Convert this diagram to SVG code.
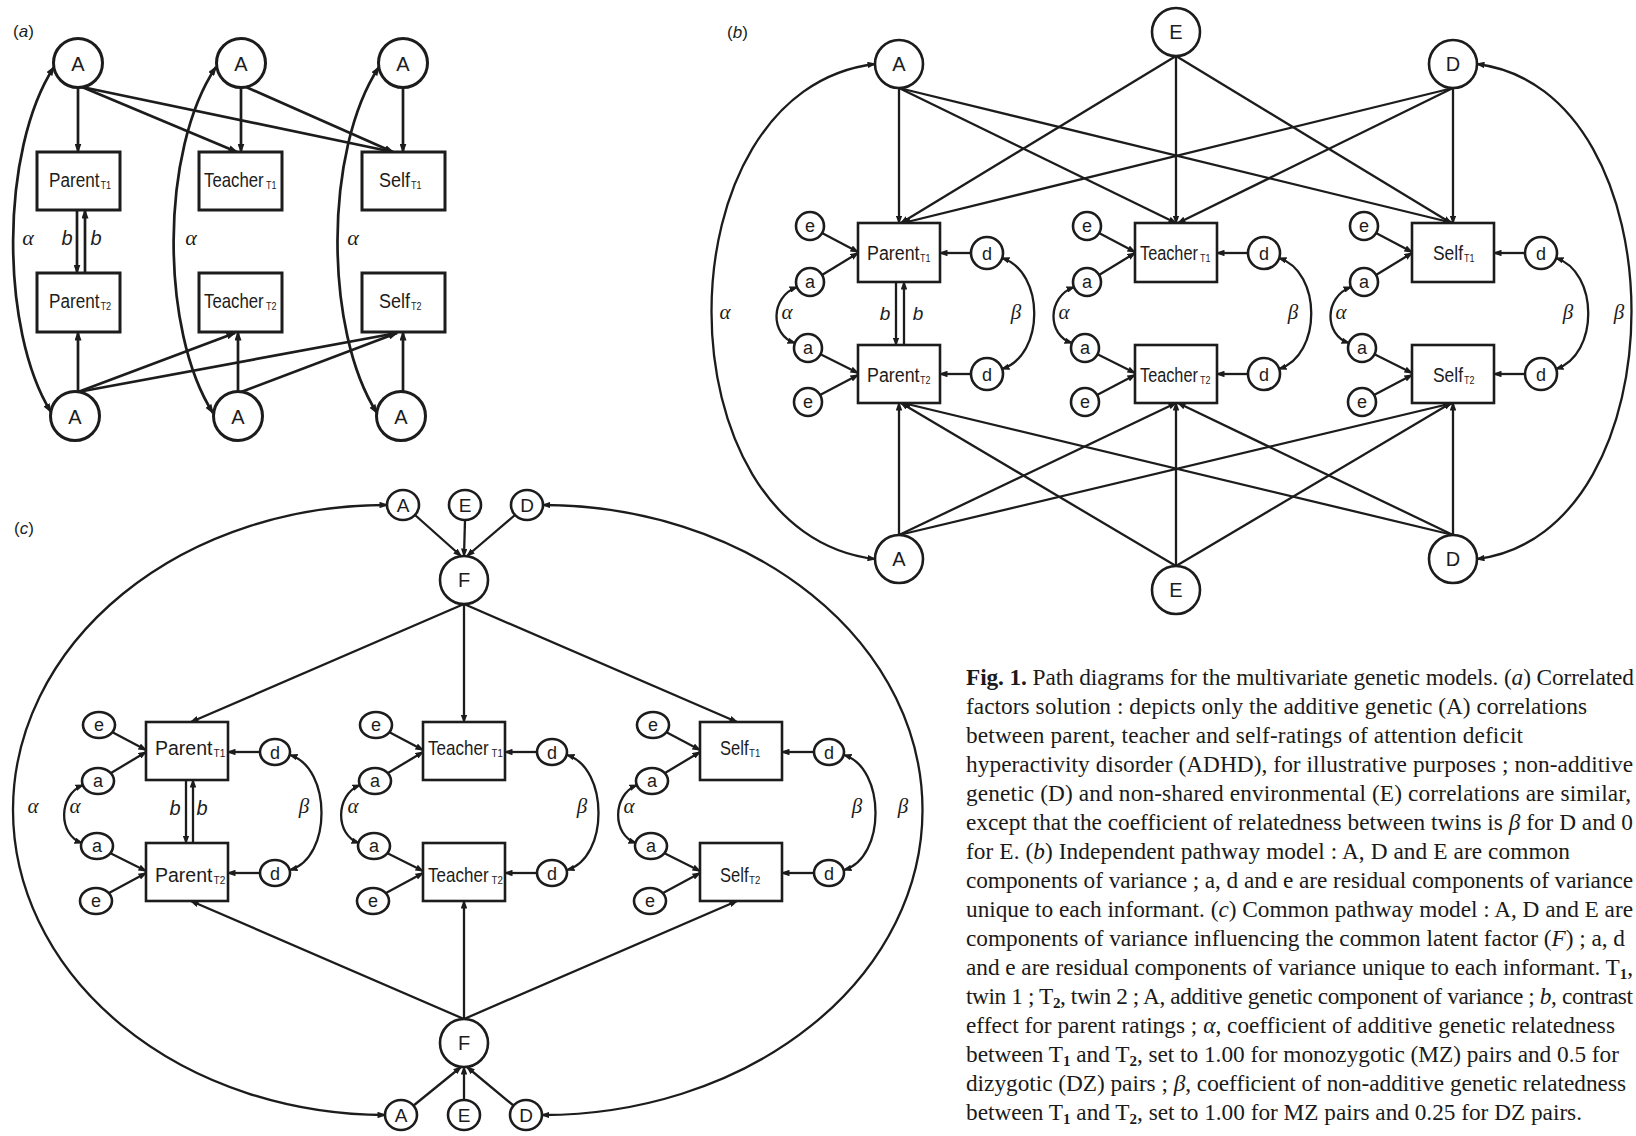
<svg xmlns="http://www.w3.org/2000/svg" width="1636" height="1136" viewBox="0 0 1636 1136">
<defs>
<style>
.ln{fill:none;stroke:#1c1c1c;stroke-linecap:butt}
.wa{stroke-width:2.7}
.wb{stroke-width:2.3}
.nd{fill:#fff;stroke:#1c1c1c}
.na{stroke-width:3}
.nb{stroke-width:2.6}
.sans{font-family:"Liberation Sans",Arial,sans-serif;fill:#1c1c1c}
.ser{font-family:"Liberation Serif","Times New Roman",serif;fill:#1c1c1c}
.it{font-style:italic}
.mid{text-anchor:middle}
.sub{font-family:"Liberation Sans",Arial,sans-serif;fill:#1c1c1c;font-size:11.5px}
.cap{font-family:"Liberation Serif","Times New Roman",serif;font-size:23.3px;fill:#1a1a1a}
</style>
<marker id="ma" viewBox="0 0 10 7" refX="8.5" refY="3.5" markerWidth="10" markerHeight="7" markerUnits="userSpaceOnUse" orient="auto-start-reverse"><path d="M0,0 L10,3.5 L0,7 z" fill="#1c1c1c"/></marker>
<marker id="mb" viewBox="0 0 9 6.5" refX="7.5" refY="3.25" markerWidth="9" markerHeight="6.5" markerUnits="userSpaceOnUse" orient="auto-start-reverse"><path d="M0,0 L9,3.25 L0,6.5 z" fill="#1c1c1c"/></marker>
</defs>
<rect width="1636" height="1136" fill="#fff"/>

<!-- ================= CONNECTORS ================= -->
<g id="connectors">
 <!-- panel a -->
 <g class="ln wa" marker-end="url(#ma)">
  <path d="M78,88 L78,152"/>
  <path d="M82,87 L237,152"/>
  <path d="M82,87 L393,152"/>
  <path d="M241,88 L241,152"/>
  <path d="M246,87 L393,152"/>
  <path d="M403,88 L403,152"/>
  <path d="M78,392 L78,332"/>
  <path d="M78,392 L235,333"/>
  <path d="M78,392 L397,333"/>
  <path d="M238,392 L238,332"/>
  <path d="M241,392 L397,333"/>
  <path d="M403,392 L403,332"/>
  <path d="M77,210 L77,273"/>
  <path d="M85,273 L85,210"/>
 </g>
 <g class="ln wa" marker-start="url(#ma)" marker-end="url(#ma)">
  <path d="M54,67 C0,150 0,330 51,412"/>
  <path d="M216,67 C160,150 160,330 213,413"/>
  <path d="M379,67 C324,150 324,330 377,413"/>
 </g>
 <!-- panel b -->
 <g class="ln wb" marker-end="url(#mb)">
  <path d="M899,88 L899,223"/>
  <path d="M899,88 L1176,223"/>
  <path d="M899,88 L1453,223"/>
  <path d="M1176,56 L901,223"/>
  <path d="M1176,56 L1176,223"/>
  <path d="M1176,56 L1451,223"/>
  <path d="M1453,88 L903,223"/>
  <path d="M1453,88 L1178,223"/>
  <path d="M1453,88 L1453,223"/>
  <path d="M899,535 L899,403"/>
  <path d="M899,535 L1176,403"/>
  <path d="M899,535 L1453,403"/>
  <path d="M1176,566 L901,403"/>
  <path d="M1176,566 L1176,403"/>
  <path d="M1176,566 L1451,403"/>
  <path d="M1453,535 L903,403"/>
  <path d="M1453,535 L1178,403"/>
  <path d="M1453,535 L1453,403"/>
  <path d="M896,282 L896,345"/>
  <path d="M904,345 L904,282"/>
  <path d="M822,233 L858,252"/><path d="M822,275 L858,253"/><path d="M820,354 L858,373"/><path d="M820,395 L858,375"/><path d="M971,253 L940,253"/><path d="M971,374 L940,374"/>
  <path d="M1099,233 L1135,252"/><path d="M1099,275 L1135,253"/><path d="M1097,354 L1135,373"/><path d="M1097,395 L1135,375"/><path d="M1248,253 L1217,253"/><path d="M1248,374 L1217,374"/>
  <path d="M1376,233 L1412,252"/><path d="M1376,275 L1412,253"/><path d="M1374,354 L1412,373"/><path d="M1374,395 L1412,375"/><path d="M1525,253 L1494,253"/><path d="M1525,374 L1494,374"/>
 </g>
 <g class="ln wb" marker-start="url(#mb)" marker-end="url(#mb)">
  <path d="M875,64 C657,90 657,533 875,559"/>
  <path d="M1477,64 C1683,90 1683,533 1477,559"/>
  <path d="M797,287 C770,297 770,335 795,343"/>
  <path d="M1002,258 C1045,272 1045,355 1002,369"/>
  <path d="M1074,287 C1047,297 1047,335 1072,343"/>
  <path d="M1279,258 C1322,272 1322,355 1279,369"/>
  <path d="M1351,287 C1324,297 1324,335 1349,343"/>
  <path d="M1556,258 C1599,272 1599,355 1556,369"/>
 </g>
 <!-- panel c -->
 <g class="ln wb" marker-end="url(#mb)">
  <path d="M415,515 L461,556"/>
  <path d="M465,520 L464,556"/>
  <path d="M515,515 L467,556"/>
  <path d="M464,604 L191,722"/>
  <path d="M464,604 L464,722"/>
  <path d="M464,604 L737,722"/>
  <path d="M464,1019 L191,901"/>
  <path d="M464,1019 L464,901"/>
  <path d="M464,1019 L737,901"/>
  <path d="M413,1106 L461,1067"/>
  <path d="M464,1100 L464,1067"/>
  <path d="M514,1106 L467,1067"/>
  <path d="M186,780 L186,843"/>
  <path d="M193,843 L193,780"/>
  <path d="M112,732 L146,750"/><path d="M111,773 L146,752"/><path d="M110,853 L146,871"/><path d="M109,893 L146,873"/><path d="M260,752 L228,752"/><path d="M260,873 L228,873"/>
  <path d="M389,732 L423,750"/><path d="M388,773 L423,752"/><path d="M387,853 L423,871"/><path d="M386,893 L423,873"/><path d="M537,752 L505,752"/><path d="M537,873 L505,873"/>
  <path d="M666,732 L700,750"/><path d="M665,773 L700,752"/><path d="M664,853 L700,871"/><path d="M663,893 L700,873"/><path d="M814,752 L782,752"/><path d="M814,873 L782,873"/>
 </g>
 <g class="ln wb" marker-start="url(#mb)" marker-end="url(#mb)">
  <path d="M387,505 A373,305 0 0 0 385,1115"/>
  <path d="M543,505 A380,305 0 0 1 542,1115"/>
  <path d="M83,785 C58,795 58,835 82,843"/>
  <path d="M290,755 C332,768 332,858 290,870"/>
  <path d="M360,785 C335,795 335,835 359,843"/>
  <path d="M567,755 C609,768 609,858 567,870"/>
  <path d="M637,785 C612,795 612,835 636,843"/>
  <path d="M844,755 C886,768 886,858 844,870"/>
 </g>
</g>

<!-- ================= PANEL A ================= -->
<g id="panel-a">
 <text class="sans" x="13" y="37" font-size="17">(<tspan class="it">a</tspan>)</text>
 <g id="a-A1-top"><circle class="nd na" cx="78" cy="63" r="24.5"/><text class="sans mid" x="78" y="70.5" font-size="20">A</text></g>
 <g id="a-A2-top"><circle class="nd na" cx="241" cy="63" r="24.5"/><text class="sans mid" x="241" y="70.5" font-size="20">A</text></g>
 <g id="a-A3-top"><circle class="nd na" cx="403" cy="63" r="24.5"/><text class="sans mid" x="403" y="70.5" font-size="20">A</text></g>
 <g id="a-A1-bot"><circle class="nd na" cx="75" cy="416" r="24.5"/><text class="sans mid" x="75" y="423.5" font-size="20">A</text></g>
 <g id="a-A2-bot"><circle class="nd na" cx="238" cy="416" r="24.5"/><text class="sans mid" x="238" y="423.5" font-size="20">A</text></g>
 <g id="a-A3-bot"><circle class="nd na" cx="401" cy="416" r="24.5"/><text class="sans mid" x="401" y="423.5" font-size="20">A</text></g>
 <g id="a-parent-t1"><rect class="nd na" x="37" y="152" width="83" height="58"/><text class="sans" transform="translate(49,187) scale(0.857,1)" font-size="20">Parent</text><text class="sub" transform="translate(100.5,189) scale(0.8,1)">T1</text></g>
 <g id="a-teacher-t1"><rect class="nd na" x="199" y="152" width="83" height="58"/><text class="sans" transform="translate(204,187) scale(0.84,1)" font-size="20">Teacher</text><text class="sub" transform="translate(266,189) scale(0.78,1)">T1</text></g>
 <g id="a-self-t1"><rect class="nd na" x="362" y="152" width="83" height="58"/><text class="sans" transform="translate(379,187) scale(0.9,1)" font-size="20">Self</text><text class="sub" transform="translate(411,189) scale(0.78,1)">T1</text></g>
 <g id="a-parent-t2"><rect class="nd na" x="37" y="273" width="83" height="59"/><text class="sans" transform="translate(49,308) scale(0.857,1)" font-size="20">Parent</text><text class="sub" transform="translate(100.5,310) scale(0.8,1)">T2</text></g>
 <g id="a-teacher-t2"><rect class="nd na" x="199" y="273" width="83" height="59"/><text class="sans" transform="translate(204,308) scale(0.84,1)" font-size="20">Teacher</text><text class="sub" transform="translate(266,310) scale(0.78,1)">T2</text></g>
 <g id="a-self-t2"><rect class="nd na" x="362" y="273" width="83" height="59"/><text class="sans" transform="translate(379,308) scale(0.9,1)" font-size="20">Self</text><text class="sub" transform="translate(411,310) scale(0.78,1)">T2</text></g>
 <g id="a-labels">
  <text class="ser it mid" x="28" y="245" font-size="22">α</text>
  <text class="ser it mid" x="191" y="245" font-size="22">α</text>
  <text class="ser it mid" x="353" y="245" font-size="22">α</text>
  <text class="sans it mid" x="67" y="245" font-size="20">b</text>
  <text class="sans it mid" x="96" y="245" font-size="20">b</text>
 </g>
</g>

<!-- ================= PANEL B ================= -->
<g id="panel-b">
 <text class="sans" x="727" y="38" font-size="17">(<tspan class="it">b</tspan>)</text>
 <g id="b-A-top"><circle class="nd nb" cx="899" cy="64" r="24"/><text class="sans mid" x="899" y="71" font-size="20">A</text></g>
 <g id="b-E-top"><circle class="nd nb" cx="1176" cy="32" r="24"/><text class="sans mid" x="1176" y="39" font-size="20">E</text></g>
 <g id="b-D-top"><circle class="nd nb" cx="1453" cy="64" r="24"/><text class="sans mid" x="1453" y="71" font-size="20">D</text></g>
 <g id="b-A-bot"><circle class="nd nb" cx="899" cy="559" r="24"/><text class="sans mid" x="899" y="566" font-size="20">A</text></g>
 <g id="b-E-bot"><circle class="nd nb" cx="1176" cy="590" r="24"/><text class="sans mid" x="1176" y="597" font-size="20">E</text></g>
 <g id="b-D-bot"><circle class="nd nb" cx="1453" cy="559" r="24"/><text class="sans mid" x="1453" y="566" font-size="20">D</text></g>
 <g id="b-parent-t1"><rect class="nd nb" x="858" y="223" width="82" height="59"/><text class="sans" transform="translate(867,260) scale(0.914,1)" font-size="19.5">Parent</text><text class="sub" transform="translate(920,262) scale(0.78,1)" font-size="11">T1</text></g>
 <g id="b-teacher-t1"><rect class="nd nb" x="1135" y="223" width="82" height="59"/><text class="sans" transform="translate(1140,260) scale(0.835,1)" font-size="19.5">Teacher</text><text class="sub" transform="translate(1200,262) scale(0.78,1)" font-size="11">T1</text></g>
 <g id="b-self-t1"><rect class="nd nb" x="1412" y="223" width="82" height="59"/><text class="sans" transform="translate(1433,260) scale(0.893,1)" font-size="19.5">Self</text><text class="sub" transform="translate(1464,262) scale(0.78,1)" font-size="11">T1</text></g>
 <g id="b-parent-t2"><rect class="nd nb" x="858" y="345" width="82" height="58"/><text class="sans" transform="translate(867,382) scale(0.914,1)" font-size="19.5">Parent</text><text class="sub" transform="translate(920,384) scale(0.78,1)" font-size="11">T2</text></g>
 <g id="b-teacher-t2"><rect class="nd nb" x="1135" y="345" width="82" height="58"/><text class="sans" transform="translate(1140,382) scale(0.835,1)" font-size="19.5">Teacher</text><text class="sub" transform="translate(1200,384) scale(0.78,1)" font-size="11">T2</text></g>
 <g id="b-self-t2"><rect class="nd nb" x="1412" y="345" width="82" height="58"/><text class="sans" transform="translate(1433,382) scale(0.893,1)" font-size="19.5">Self</text><text class="sub" transform="translate(1464,384) scale(0.78,1)" font-size="11">T2</text></g>
 <g id="b-p-e1"><circle class="nd nb" cx="810" cy="226" r="14"/><text class="sans mid" x="810" y="231.5" font-size="18">e</text></g>
 <g id="b-p-a1"><circle class="nd nb" cx="810" cy="282" r="14"/><text class="sans mid" x="810" y="287.5" font-size="18">a</text></g>
 <g id="b-p-a2"><circle class="nd nb" cx="808" cy="348" r="14"/><text class="sans mid" x="808" y="353.5" font-size="18">a</text></g>
 <g id="b-p-e2"><circle class="nd nb" cx="808" cy="402" r="14"/><text class="sans mid" x="808" y="407.5" font-size="18">e</text></g>
 <g id="b-p-d1"><circle class="nd nb" cx="987" cy="253" r="16"/><text class="sans mid" x="987" y="259.5" font-size="18">d</text></g>
 <g id="b-p-d2"><circle class="nd nb" cx="987" cy="374" r="16"/><text class="sans mid" x="987" y="380.5" font-size="18">d</text></g>
 <g id="b-t-e1"><circle class="nd nb" cx="1087" cy="226" r="14"/><text class="sans mid" x="1087" y="231.5" font-size="18">e</text></g>
 <g id="b-t-a1"><circle class="nd nb" cx="1087" cy="282" r="14"/><text class="sans mid" x="1087" y="287.5" font-size="18">a</text></g>
 <g id="b-t-a2"><circle class="nd nb" cx="1085" cy="348" r="14"/><text class="sans mid" x="1085" y="353.5" font-size="18">a</text></g>
 <g id="b-t-e2"><circle class="nd nb" cx="1085" cy="402" r="14"/><text class="sans mid" x="1085" y="407.5" font-size="18">e</text></g>
 <g id="b-t-d1"><circle class="nd nb" cx="1264" cy="253" r="16"/><text class="sans mid" x="1264" y="259.5" font-size="18">d</text></g>
 <g id="b-t-d2"><circle class="nd nb" cx="1264" cy="374" r="16"/><text class="sans mid" x="1264" y="380.5" font-size="18">d</text></g>
 <g id="b-s-e1"><circle class="nd nb" cx="1364" cy="226" r="14"/><text class="sans mid" x="1364" y="231.5" font-size="18">e</text></g>
 <g id="b-s-a1"><circle class="nd nb" cx="1364" cy="282" r="14"/><text class="sans mid" x="1364" y="287.5" font-size="18">a</text></g>
 <g id="b-s-a2"><circle class="nd nb" cx="1362" cy="348" r="14"/><text class="sans mid" x="1362" y="353.5" font-size="18">a</text></g>
 <g id="b-s-e2"><circle class="nd nb" cx="1362" cy="402" r="14"/><text class="sans mid" x="1362" y="407.5" font-size="18">e</text></g>
 <g id="b-s-d1"><circle class="nd nb" cx="1541" cy="253" r="16"/><text class="sans mid" x="1541" y="259.5" font-size="18">d</text></g>
 <g id="b-s-d2"><circle class="nd nb" cx="1541" cy="374" r="16"/><text class="sans mid" x="1541" y="380.5" font-size="18">d</text></g>
 <g id="b-labels">
  <text class="ser it mid" x="725" y="319" font-size="21">α</text>
  <text class="ser it mid" x="787" y="319" font-size="21">α</text>
  <text class="sans it mid" x="885" y="320" font-size="19">b</text>
  <text class="sans it mid" x="918" y="320" font-size="19">b</text>
  <text class="ser it mid" x="1016" y="319" font-size="21">β</text>
  <text class="ser it mid" x="1064" y="319" font-size="21">α</text>
  <text class="ser it mid" x="1293" y="319" font-size="21">β</text>
  <text class="ser it mid" x="1341" y="319" font-size="21">α</text>
  <text class="ser it mid" x="1568" y="319" font-size="21">β</text>
  <text class="ser it mid" x="1619" y="319" font-size="21">β</text>
 </g>
</g>

<!-- ================= PANEL C ================= -->
<g id="panel-c">
 <text class="sans" x="14" y="534" font-size="17">(<tspan class="it">c</tspan>)</text>
 <g id="c-A-top"><ellipse class="nd nb" cx="403" cy="505" rx="16" ry="15"/><text class="sans mid" x="403" y="512" font-size="19">A</text></g>
 <g id="c-E-top"><ellipse class="nd nb" cx="465" cy="505" rx="16" ry="15"/><text class="sans mid" x="465" y="512" font-size="19">E</text></g>
 <g id="c-D-top"><ellipse class="nd nb" cx="527" cy="505" rx="16" ry="15"/><text class="sans mid" x="527" y="512" font-size="19">D</text></g>
 <g id="c-F-top"><circle class="nd nb" cx="464" cy="580" r="24"/><text class="sans mid" x="464" y="587" font-size="20">F</text></g>
 <g id="c-F-bot"><circle class="nd nb" cx="464" cy="1043" r="24"/><text class="sans mid" x="464" y="1050" font-size="20">F</text></g>
 <g id="c-A-bot"><ellipse class="nd nb" cx="401" cy="1115" rx="16" ry="15"/><text class="sans mid" x="401" y="1122" font-size="19">A</text></g>
 <g id="c-E-bot"><ellipse class="nd nb" cx="464" cy="1115" rx="16" ry="15"/><text class="sans mid" x="464" y="1122" font-size="19">E</text></g>
 <g id="c-D-bot"><ellipse class="nd nb" cx="526" cy="1115" rx="16" ry="15"/><text class="sans mid" x="526" y="1122" font-size="19">D</text></g>
 <g id="c-parent-t1"><rect class="nd nb" x="146" y="722" width="82" height="58"/><text class="sans" transform="translate(155,755) scale(0.99,1)" font-size="19.7">Parent</text><text class="sub" transform="translate(213.5,757) scale(0.88,1)">T1</text></g>
 <g id="c-teacher-t1"><rect class="nd nb" x="423" y="722" width="82" height="58"/><text class="sans" transform="translate(428,755) scale(0.865,1)" font-size="19.7">Teacher</text><text class="sub" transform="translate(491.5,757) scale(0.84,1)">T1</text></g>
 <g id="c-self-t1"><rect class="nd nb" x="700" y="722" width="82" height="58"/><text class="sans" transform="translate(720,755) scale(0.84,1)" font-size="19.7">Self</text><text class="sub" transform="translate(749,757) scale(0.84,1)">T1</text></g>
 <g id="c-parent-t2"><rect class="nd nb" x="146" y="843" width="82" height="58"/><text class="sans" transform="translate(155,882) scale(0.99,1)" font-size="19.7">Parent</text><text class="sub" transform="translate(213.5,884) scale(0.88,1)">T2</text></g>
 <g id="c-teacher-t2"><rect class="nd nb" x="423" y="843" width="82" height="58"/><text class="sans" transform="translate(428,882) scale(0.865,1)" font-size="19.7">Teacher</text><text class="sub" transform="translate(491.5,884) scale(0.84,1)">T2</text></g>
 <g id="c-self-t2"><rect class="nd nb" x="700" y="843" width="82" height="58"/><text class="sans" transform="translate(720,882) scale(0.84,1)" font-size="19.7">Self</text><text class="sub" transform="translate(749,884) scale(0.84,1)">T2</text></g>
 <g id="c-p-e1"><ellipse class="nd nb" cx="99" cy="725" rx="16" ry="13"/><text class="sans mid" x="99" y="730.5" font-size="18">e</text></g>
 <g id="c-p-a1"><ellipse class="nd nb" cx="98" cy="781" rx="16" ry="13"/><text class="sans mid" x="98" y="786.5" font-size="18">a</text></g>
 <g id="c-p-a2"><ellipse class="nd nb" cx="97" cy="846" rx="16" ry="13"/><text class="sans mid" x="97" y="851.5" font-size="18">a</text></g>
 <g id="c-p-e2"><ellipse class="nd nb" cx="96" cy="901" rx="16" ry="13"/><text class="sans mid" x="96" y="906.5" font-size="18">e</text></g>
 <g id="c-p-d1"><ellipse class="nd nb" cx="275" cy="752" rx="15" ry="13"/><text class="sans mid" x="275" y="758.5" font-size="18">d</text></g>
 <g id="c-p-d2"><ellipse class="nd nb" cx="275" cy="873" rx="15" ry="13"/><text class="sans mid" x="275" y="879.5" font-size="18">d</text></g>
 <g id="c-t-e1"><ellipse class="nd nb" cx="376" cy="725" rx="16" ry="13"/><text class="sans mid" x="376" y="730.5" font-size="18">e</text></g>
 <g id="c-t-a1"><ellipse class="nd nb" cx="375" cy="781" rx="16" ry="13"/><text class="sans mid" x="375" y="786.5" font-size="18">a</text></g>
 <g id="c-t-a2"><ellipse class="nd nb" cx="374" cy="846" rx="16" ry="13"/><text class="sans mid" x="374" y="851.5" font-size="18">a</text></g>
 <g id="c-t-e2"><ellipse class="nd nb" cx="373" cy="901" rx="16" ry="13"/><text class="sans mid" x="373" y="906.5" font-size="18">e</text></g>
 <g id="c-t-d1"><ellipse class="nd nb" cx="552" cy="752" rx="15" ry="13"/><text class="sans mid" x="552" y="758.5" font-size="18">d</text></g>
 <g id="c-t-d2"><ellipse class="nd nb" cx="552" cy="873" rx="15" ry="13"/><text class="sans mid" x="552" y="879.5" font-size="18">d</text></g>
 <g id="c-s-e1"><ellipse class="nd nb" cx="653" cy="725" rx="16" ry="13"/><text class="sans mid" x="653" y="730.5" font-size="18">e</text></g>
 <g id="c-s-a1"><ellipse class="nd nb" cx="652" cy="781" rx="16" ry="13"/><text class="sans mid" x="652" y="786.5" font-size="18">a</text></g>
 <g id="c-s-a2"><ellipse class="nd nb" cx="651" cy="846" rx="16" ry="13"/><text class="sans mid" x="651" y="851.5" font-size="18">a</text></g>
 <g id="c-s-e2"><ellipse class="nd nb" cx="650" cy="901" rx="16" ry="13"/><text class="sans mid" x="650" y="906.5" font-size="18">e</text></g>
 <g id="c-s-d1"><ellipse class="nd nb" cx="829" cy="752" rx="15" ry="13"/><text class="sans mid" x="829" y="758.5" font-size="18">d</text></g>
 <g id="c-s-d2"><ellipse class="nd nb" cx="829" cy="873" rx="15" ry="13"/><text class="sans mid" x="829" y="879.5" font-size="18">d</text></g>
 <g id="c-labels">
  <text class="ser it mid" x="33" y="813" font-size="21">α</text>
  <text class="ser it mid" x="75" y="813" font-size="21">α</text>
  <text class="sans it mid" x="175" y="815" font-size="20">b</text>
  <text class="sans it mid" x="202" y="815" font-size="20">b</text>
  <text class="ser it mid" x="304" y="813" font-size="21">β</text>
  <text class="ser it mid" x="353" y="813" font-size="21">α</text>
  <text class="ser it mid" x="582" y="813" font-size="21">β</text>
  <text class="ser it mid" x="629" y="813" font-size="21">α</text>
  <text class="ser it mid" x="857" y="813" font-size="21">β</text>
  <text class="ser it mid" x="903" y="813" font-size="21">β</text>
 </g>
</g>

<!-- ================= CAPTION ================= -->
<g id="caption" class="cap">
 <text x="966" y="685" textLength="668"><tspan font-weight="bold">Fig. 1.</tspan> Path diagrams for the multivariate genetic models. (<tspan font-style="italic">a</tspan>) Correlated</text>
 <text x="966" y="714" textLength="621">factors solution : depicts only the additive genetic (A) correlations</text>
 <text x="966" y="743" textLength="557">between parent, teacher and self-ratings of attention deficit</text>
 <text x="966" y="772" textLength="667">hyperactivity disorder (ADHD), for illustrative purposes ; non-additive</text>
 <text x="966" y="801" textLength="665">genetic (D) and non-shared environmental (E) correlations are similar,</text>
 <text x="966" y="830" textLength="667">except that the coefficient of relatedness between twins is <tspan font-style="italic">β</tspan> for D and 0</text>
 <text x="966" y="859" textLength="604">for E. (<tspan font-style="italic">b</tspan>) Independent pathway model : A, D and E are common</text>
 <text x="966" y="888" textLength="667">components of variance ; a, d and e are residual components of variance</text>
 <text x="966" y="917" textLength="667">unique to each informant. (<tspan font-style="italic">c</tspan>) Common pathway model : A, D and E are</text>
 <text x="966" y="946" textLength="659">components of variance influencing the common latent factor (<tspan font-style="italic">F</tspan>) ; a, d</text>
 <text x="966" y="975" textLength="667">and e are residual components of variance unique to each informant. T<tspan font-size="15" dy="4" font-weight="bold">1</tspan><tspan dy="-4">,</tspan></text>
 <text x="966" y="1004" textLength="667">twin 1 ; T<tspan font-size="15" dy="4" font-weight="bold">2</tspan><tspan dy="-4">, twin 2 ; A, additive genetic component of variance ; </tspan><tspan font-style="italic">b</tspan>, contrast</text>
 <text x="966" y="1033" textLength="649">effect for parent ratings ; <tspan font-style="italic">α</tspan>, coefficient of additive genetic relatedness</text>
 <text x="966" y="1062" textLength="653">between T<tspan font-size="15" dy="4" font-weight="bold">1</tspan><tspan dy="-4"> and T</tspan><tspan font-size="15" dy="4" font-weight="bold">2</tspan><tspan dy="-4">, set to 1.00 for monozygotic (MZ) pairs and 0.5 for</tspan></text>
 <text x="966" y="1091" textLength="660">dizygotic (DZ) pairs ; <tspan font-style="italic">β</tspan>, coefficient of non-additive genetic relatedness</text>
 <text x="966" y="1120" textLength="616">between T<tspan font-size="15" dy="4" font-weight="bold">1</tspan><tspan dy="-4"> and T</tspan><tspan font-size="15" dy="4" font-weight="bold">2</tspan><tspan dy="-4">, set to 1.00 for MZ pairs and 0.25 for DZ pairs.</tspan></text>
</g>
</svg>
